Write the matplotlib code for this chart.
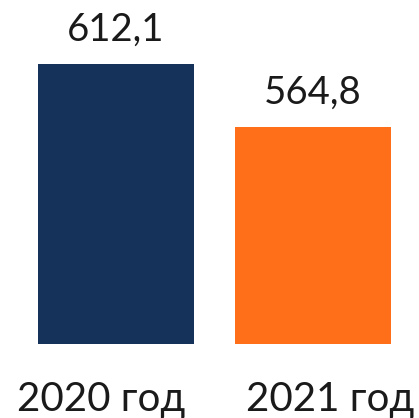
import matplotlib
matplotlib.use("Agg")
import matplotlib.pyplot as plt
from matplotlib.transforms import blended_transform_factory

categories = ["2020 год", "2021 год"]
values = [612.1, 564.8]
value_labels = ["612,1", "564,8"]
colors = ["#14325A", "#FF6F1A"]

plt.rcParams['font.family'] = ['Lato', 'DejaVu Sans']

fig = plt.figure(figsize=(4.19, 4.18), dpi=100)
ax = fig.add_axes([0, 74/418, 1, 344/418])
x = list(range(len(categories)))
bars = ax.bar(x, values, width=156/197, color=colors)
ax.set_xlim(-116/197, (419-116)/197)
ax.set_ylim(401.9, 660.2)
ax.axis('off')

for xi, v, lab in zip(x, values, value_labels):
    ax.annotate(lab, (xi, v), xytext=(0, 16.5), textcoords='offset points',
                ha='center', va='baseline', fontsize=27.5, color='#1a1a1a')

trans = blended_transform_factory(ax.transData, fig.transFigure)
label_offsets = [-15/197, 17/197]
for xi, cat, off in zip(x, categories, label_offsets):
    ax.text(xi + off, 7/418, cat, transform=trans, ha='center', va='baseline',
            fontsize=29, color='#1a1a1a', clip_on=False)

fig.savefig("out.png", dpi=100)
